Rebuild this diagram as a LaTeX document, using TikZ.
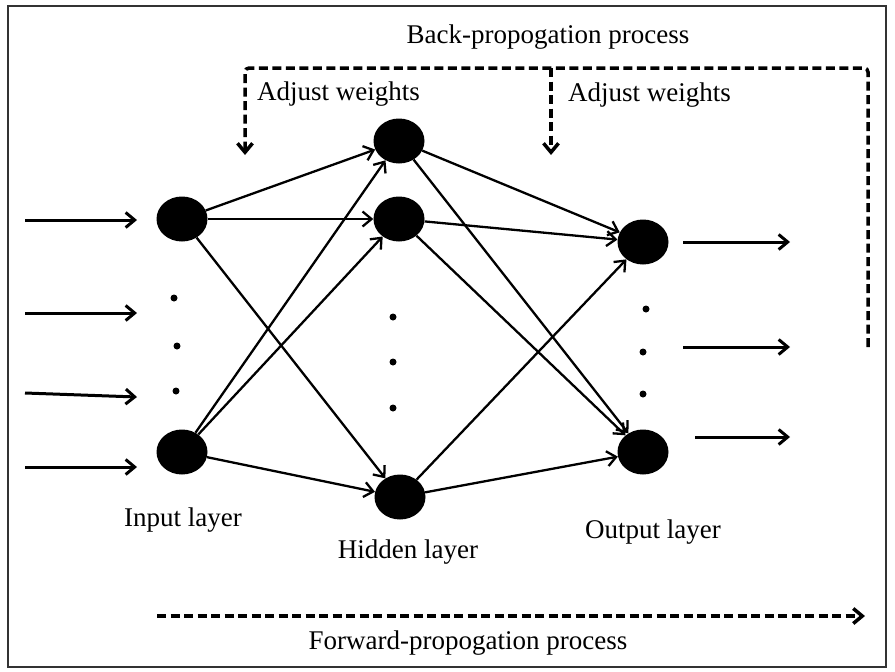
\documentclass[tikz,border=0pt]{standalone}
\usepackage{fontspec}
\setmainfont{Liberation Serif}
\usetikzlibrary{arrows.meta,shapes.geometric}

\begin{document}
\begin{tikzpicture}[x=1pt,y=-1pt,>={Straight Barb[length=9pt,width=15pt]},
  neuron/.style={ellipse,fill=black,minimum width=51pt,minimum height=45pt,inner sep=0pt},
  dotmark/.style={circle,fill=black,minimum size=7pt,inner sep=0pt},
  link/.style={line width=2.3pt,->},
  signal/.style={line width=3pt,->},
  process/.style={line width=3.5pt,dash pattern=on 9pt off 4.5pt},
  txt/.style={inner sep=0pt,font=\fontsize{27}{30}\selectfont}]
  % Frame
  \useasboundingbox (0,0) rectangle (895,672);
  \draw[line width=2.5pt,black!80] (8,6) rectangle (886,667);
  %
  % Neurons
  \node[neuron] (in1) at (182,219) {};
  \node[neuron] (in2) at (182,452) {};
  \node[neuron] (hid1) at (399,141) {};
  \node[neuron] (hid2) at (399,219) {};
  \node[neuron] (hid3) at (400,497) {};
  \node[neuron] (out1) at (643,242) {};
  \node[neuron] (out2) at (643,452) {};
  %
  % Dots
  \node[dotmark] (di1) at (174,298) {};
  \node[dotmark] (di2) at (177,346) {};
  \node[dotmark] (di3) at (176,391) {};
  \node[dotmark] (dh1) at (393,317) {};
  \node[dotmark] (dh2) at (393,362) {};
  \node[dotmark] (dh3) at (393,408) {};
  \node[dotmark] (do1) at (646,309) {};
  \node[dotmark] (do2) at (643,352) {};
  \node[dotmark] (do3) at (643,394) {};
  %
  % Layer labels
  \node[txt] (lin)  at (183,520) {Input layer};
  \node[txt] (lhid) at (408,552) {Hidden layer};
  \node[txt] (lout) at (653,532) {Output layer};
  \node[txt] (lback) at (548,37) {Back-propogation process};
  \node[txt] (lfwd) at (468,643) {Forward-propogation process};
  \node[txt,anchor=west] (ladj1) at (257,94) {Adjust\ weights};
  \node[txt,anchor=west] (ladj2) at (568,95) {Adjust\ weights};
  %
  % Inputs and outputs
  \coordinate (x1) at (25,220);  \coordinate (x1e) at (137,220);
  \coordinate (x2) at (25,313);  \coordinate (x2e) at (137,313);
  \coordinate (x3) at (25,393);  \coordinate (x3e) at (137,397);
  \coordinate (x4) at (25,467);  \coordinate (x4e) at (137,467);
  \coordinate (y1) at (683,242); \coordinate (y1e) at (790,242);
  \coordinate (y2) at (683,347); \coordinate (y2e) at (790,347);
  \coordinate (y3) at (695,437); \coordinate (y3e) at (790,437);
  \draw[signal] (x1) -- (x1e);
  \draw[signal] (x2) -- (x2e);
  \draw[signal] (x3) -- (x3e);
  \draw[signal] (x4) -- (x4e);
  \draw[signal] (y1) -- (y1e);
  \draw[signal] (y2) -- (y2e);
  \draw[signal] (y3) -- (y3e);
  %
  % Weights
  \foreach \a in {in1,in2}
    \foreach \b in {hid1,hid2,hid3}
      \draw[link] (\a) -- (\b);
  \foreach \a in {hid1,hid2,hid3}
    \foreach \b in {out1,out2}
      \draw[link] (\a) -- (\b);
  %
  % Processes
  \coordinate (bpL) at (245,155);
  \coordinate (bpM) at (551,68);
  \coordinate (bpMe) at (551,155);
  \coordinate (bpC) at (868,68);
  \coordinate (bpR) at (868,347);
  \draw[process,rounded corners=4pt,<-] (bpL) |- (bpC) -- (bpR);
  \draw[process,->] (bpM) -- (bpMe);
  \coordinate (fwS) at (157,616);
  \coordinate (fwE) at (865,616);
  \draw[process,->] (fwS) -- (fwE);
\end{tikzpicture}
\end{document}
